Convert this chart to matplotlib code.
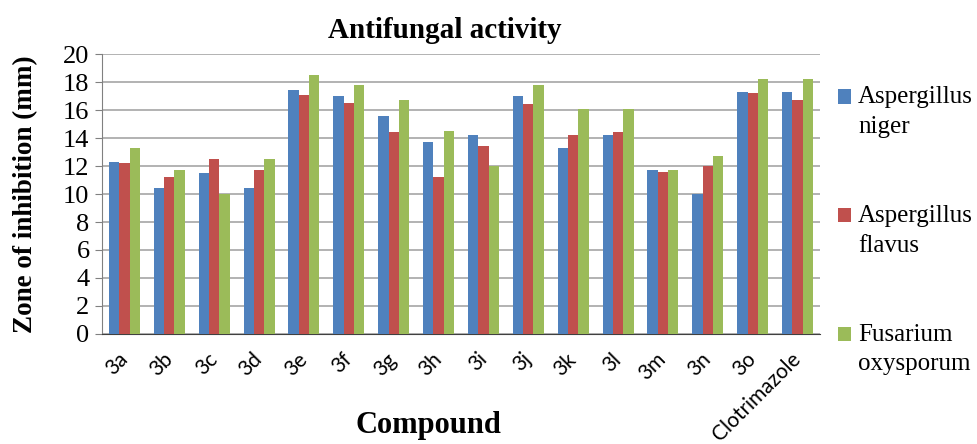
import numpy as np
import matplotlib
matplotlib.use("Agg")
import matplotlib.pyplot as plt
from matplotlib.patches import Rectangle
from matplotlib.container import BarContainer
from matplotlib.legend_handler import HandlerPatch, update_from_first_child

plt.rcParams['font.family'] = ['Liberation Serif', 'DejaVu Serif']

# data
compounds = ['3a', '3b', '3c', '3d', '3e', '3f', '3g', '3h', '3i', '3j',
             '3k', '3l', '3m', '3n', '3o', 'Clotrimazole']
niger = [12.3, 10.4, 11.5, 10.4, 17.4, 17.0, 15.6, 13.7, 14.2, 17.0,
         13.3, 14.2, 11.7, 10.0, 17.3, 17.3]
flavus = [12.2, 11.2, 12.5, 11.7, 17.1, 16.5, 14.4, 11.2, 13.4, 16.4,
          14.2, 14.4, 11.6, 12.0, 17.2, 16.7]
fusarium = [13.3, 11.7, 10.0, 12.5, 18.5, 17.8, 16.7, 14.5, 12.0, 17.8,
            16.1, 16.1, 11.7, 12.7, 18.2, 18.2]
series_names = ['Aspergillus\nniger', 'Aspergillus\nflavus', 'Fusarium\noxysporum']
colors = ['#4F81BD', '#C0504D', '#9BBB59']

W, H = 977, 444
fig = plt.figure(figsize=(W / 100, H / 100), dpi=100)
ax = fig.add_axes([102 / W, 1 - 334 / H, 718 / W, 280 / H])

x = np.arange(len(compounds))
w = 0.23
for i, (vals, name, c) in enumerate(zip([niger, flavus, fusarium], series_names, colors)):
    ax.bar(x + (i - 1) * w, vals, width=w, color=c, label=name, zorder=3)

ax.set_xlim(-0.5, len(compounds) - 0.5)
ax.set_ylim(0, 20)
ax.set_yticks(range(0, 21, 2))
ax.grid(axis='y', color='#a6a6a6', linewidth=1.2, zorder=0)
ax.set_xticks(x)
ax.set_xticklabels(compounds, rotation=45, ha='right', va='center',
                   rotation_mode='anchor', fontsize=15, family=['Lato', 'DejaVu Sans'])
ax.tick_params(axis='x', length=0, pad=16)
ax.tick_params(axis='y', labelsize=19, length=5, color='#808080', pad=4)
for s in ['top', 'right']:
    ax.spines[s].set_visible(False)
ax.spines['left'].set_color('#808080')
ax.spines['bottom'].set_color('#404040')

fig.text(445 / W, 1 - 30 / H, 'Antifungal activity', fontsize=21, fontweight='bold',
         ha='center', va='center')
ax.set_ylabel('Zone of inhibition (mm)', fontsize=19.5, fontweight='bold')
ax.yaxis.set_label_coords(-0.089, 0.5)
fig.text(428 / W, 1 - 425 / H, 'Compound', fontsize=22, fontweight='bold',
         ha='center', va='center')


# legend marker sits on the first line of each two-line label
def top_patch(legend, orig_handle, xdescent, ydescent, width, height, fontsize):
    return Rectangle((-xdescent, -ydescent + 0.6 * fontsize), width, height)


leg = fig.legend(loc='upper left', bbox_to_anchor=(838 / W, 1 - 86 / H), frameon=False,
                 fontsize=18, handlelength=0.5, handleheight=0.5, handletextpad=0.3,
                 labelspacing=2.69, borderpad=0, borderaxespad=0,
                 handler_map={BarContainer: HandlerPatch(patch_func=top_patch,
                                                         update_func=update_from_first_child)})
for t in leg.get_texts():
    t.set_linespacing(1.45)

fig.savefig('out.png', dpi=100)
